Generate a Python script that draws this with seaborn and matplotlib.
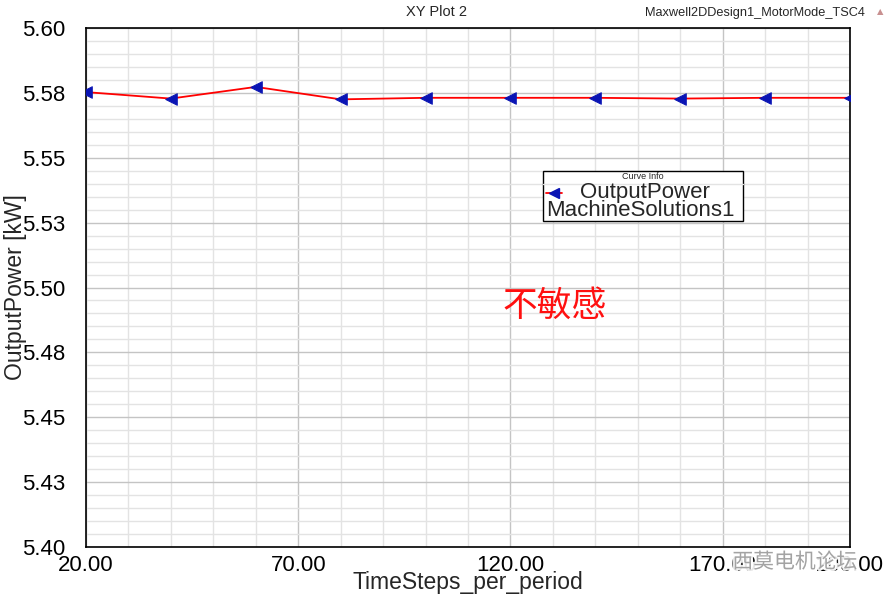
import numpy as np
import pandas as pd
import seaborn as sns
import matplotlib.pyplot as plt
import matplotlib.patheffects as pe
from matplotlib.patches import Rectangle
from matplotlib.lines import Line2D
from matplotlib.ticker import FixedLocator, MultipleLocator

# data
time_steps = [20, 40, 60, 80, 100, 120, 140, 160, 180, 200]
output_power = [5.5753, 5.5728, 5.5773, 5.5725, 5.5731, 5.5731, 5.5731, 5.5728, 5.5731, 5.5731]

x_ticks = [20, 70, 120, 170, 200]
x_tick_labels = ["20.00", "70.00", "120.00", "170.00", "200.00"]
y_ticks = [5.40, 5.425, 5.45, 5.475, 5.50, 5.525, 5.55, 5.575, 5.60]
y_tick_labels = ["5.40", "5.43", "5.45", "5.48", "5.50", "5.53", "5.55", "5.58", "5.60"]

df = pd.DataFrame({"TimeSteps_per_period": time_steps, "OutputPower": output_power})

sns.set_style("white")
plt.rcParams["font.family"] = ["Liberation Sans", "Noto Sans CJK SC", "DejaVu Sans"]

W, H = 890, 600
fig = plt.figure(figsize=(8.9, 6.0), dpi=100)
ax = fig.add_axes([86 / W, 1 - 547 / H, (850 - 86) / W, (547 - 28) / H])

# grid: minor light, major a bit darker
ax.set_xlim(20, 200)
ax.set_ylim(5.40, 5.60)
ax.xaxis.set_major_locator(FixedLocator(x_ticks))
ax.xaxis.set_minor_locator(MultipleLocator(10))
ax.yaxis.set_major_locator(FixedLocator(y_ticks))
ax.yaxis.set_minor_locator(MultipleLocator(0.005))
ax.set_xticklabels(x_tick_labels)
ax.set_yticklabels(y_tick_labels)
ax.grid(which="minor", color="#e3e3e3", lw=1.0)
ax.grid(which="major", color="#c4c4c4", lw=1.0)
ax.set_axisbelow(True)

sns.lineplot(data=df, x="TimeSteps_per_period", y="OutputPower", color="#ff0000",
             lw=1.3, ax=ax, zorder=3)
sns.scatterplot(data=df, x="TimeSteps_per_period", y="OutputPower", marker="<",
                color="#0a14b4", edgecolor="#0a14b4", s=70, ax=ax, zorder=4)

for s in ax.spines.values():
    s.set_color("black")
    s.set_linewidth(1.2)

ax.tick_params(axis="y", which="major", direction="out", length=14, width=1.2,
               labelsize=16, pad=1, colors="black")
ax.tick_params(axis="y", which="minor", direction="out", length=8, width=1.2, colors="black")
ax.tick_params(axis="x", which="major", direction="out", length=9, width=1.2,
               labelsize=16, pad=-3, colors="black")
ax.tick_params(axis="x", which="minor", direction="out", length=5, width=1.2, colors="black")

ax.set_xlabel("TimeSteps_per_period", fontsize=16.5, labelpad=-4)
ax.set_ylabel("OutputPower [kW]", fontsize=16.5)
ax.yaxis.set_label_coords(-59 / 764, 0.5)

# header texts
fig.text(436 / W, 1 - 12 / H, "XY Plot 2", fontsize=10.5, ha="center", va="center")
fig.text(755 / W, 1 - 13 / H, "Maxwell2DDesign1_MotorMode_TSC4", fontsize=9.2,
         ha="center", va="center")
fig.text(880 / W, 1 - 12 / H, "\u25b2", fontsize=6, color="#c89090",
         ha="center", va="center", family=["DejaVu Sans"])

# curve info box
box = Rectangle((543 / W, 1 - 221 / H), 200 / W, 50 / H, transform=fig.transFigure,
                facecolor="white", edgecolor="black", lw=1.0, zorder=5)
fig.add_artist(box)
fig.add_artist(Line2D([543 / W, 743 / W], [1 - 184 / H, 1 - 184 / H],
                      transform=fig.transFigure, color="#e3e3e3", lw=1.0, zorder=6))
fig.text(643 / W, 1 - 177 / H, "Curve Info", fontsize=6.5, ha="center", va="center", zorder=6)
fig.add_artist(Line2D([546 / W, 562 / W], [1 - 193 / H, 1 - 193 / H],
                      transform=fig.transFigure, color="#ff0000", lw=1.3, zorder=6))
fig.add_artist(Line2D([554 / W], [1 - 193 / H], transform=fig.transFigure, marker="<",
                      color="#0a14b4", markersize=7, lw=0, zorder=7))
fig.text(580 / W, 1 - 192 / H, "OutputPower", fontsize=16, ha="left", va="center", zorder=6)
fig.text(546 / W, 1 - 211 / H, "MachineSolutions1", fontsize=16, ha="left", va="center",
         zorder=6)

# annotation
fig.text(555 / W, 1 - 306 / H, "不敏感", fontsize=25, color="#ff1010", ha="center",
         va="center", family=["Noto Sans CJK SC"])

# watermark over the last tick labels, as in the source screenshot
fig.text(795 / W, 1 - 562 / H, "西莫电机论坛", fontsize=15, color="#9a9a9a", alpha=0.9,
         ha="center", va="center", family=["Noto Sans CJK SC"],
         path_effects=[pe.withStroke(linewidth=3, foreground="white")])

fig.savefig("out.png", dpi=100)
